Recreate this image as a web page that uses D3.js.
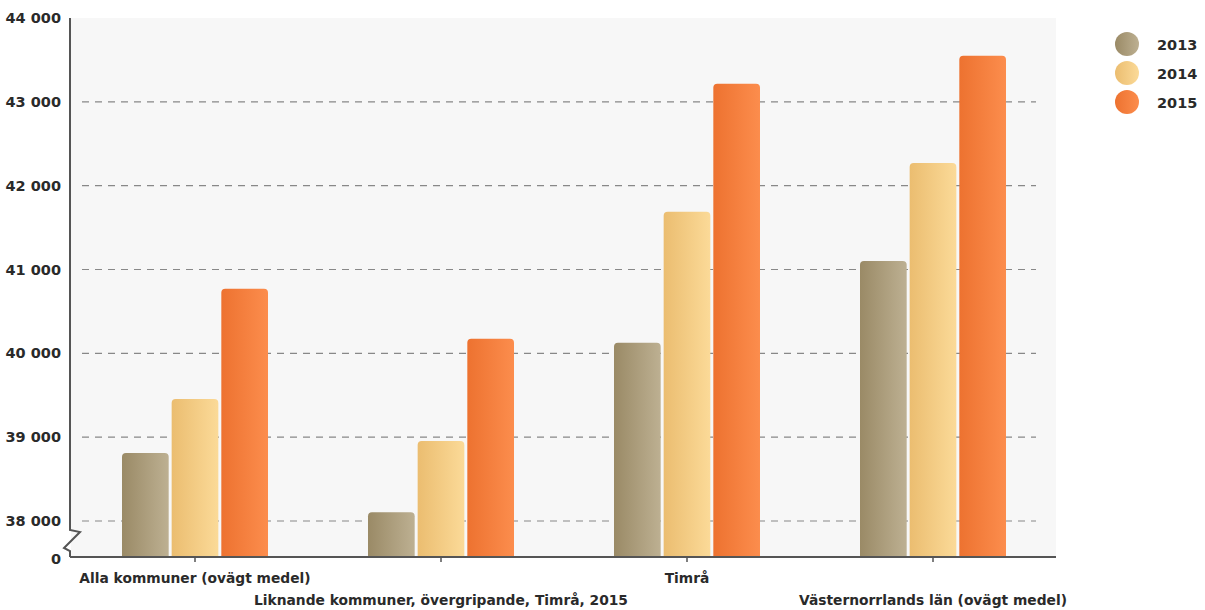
<!DOCTYPE html>
<html>
<head>
<meta charset="utf-8">
<script src="https://cdn.jsdelivr.net/npm/d3@7"></script>
<style>
  body { margin: 0; background: #fff; }
  text { font-family: "DejaVu Sans", sans-serif; font-weight: bold; fill: #2a2a2a; }
</style>
</head>
<body>
<div id="chart"></div>
<script>
// data
var categories = ["Alla kommuner (ovägt medel)", "Liknande kommuner, övergripande, Timrå, 2015", "Timrå", "Västernorrlands län (ovägt medel)"];
var years = ["2013", "2014", "2015"];
var v2013 = [38810, 38105, 40125, 41100];
var v2014 = [39455, 38955, 41690, 42270];
var v2015 = [40770, 40175, 43215, 43550];
var yTicks = [38000, 39000, 40000, 41000, 42000, 43000, 44000];

var colorsFrom = ["#9a8a66", "#ebbd70", "#ed7230"];
var colorsTo = ["#bdb092", "#fbda98", "#fc8d4d"];

var W = 1205, H = 610;
var mLeft = 70, mRight = 1056, mTop = 18, mBottom = 557;

let svg = d3.select("#chart").append("svg").attr("width", W).attr("height", H);
let defs = svg.append("defs");
years.forEach(function (y, i) {
    let g = defs.append("linearGradient").attr("id", "grad" + i)
        .attr("x1", "0%").attr("x2", "100%").attr("y1", "0%").attr("y2", "0%");
    g.append("stop").attr("offset", "0%").attr("stop-color", colorsFrom[i]);
    g.append("stop").attr("offset", "100%").attr("stop-color", colorsTo[i]);
});

// broken axis: 0 at bottom, then 38000..44000
var y = d3.scaleLinear().domain([0, 38000, 44000]).range([mBottom, 521, mTop]);
var x0 = d3.scaleBand().domain(categories).range([mLeft + 2, mRight]).padding(0);
var x1 = d3.scaleBand().domain(years).range([0, 146]).paddingInner(0.06);

// plot background
svg.append("rect").attr("x", mLeft + 1).attr("y", mTop).attr("width", mRight - mLeft - 1).attr("height", mBottom - mTop)
    .attr("fill", "#f7f7f7");

// grid lines
svg.selectAll(".grid").data(yTicks.slice(0, -1)).enter().append("line")
    .attr("x1", mLeft + 12).attr("x2", mRight - 20)
    .attr("y1", d => y(d)).attr("y2", d => y(d))
    .attr("stroke", "#888").attr("stroke-width", 1.2).attr("stroke-dasharray", "7,6");

// bars
var series = [v2013, v2014, v2015];
categories.forEach(function (c, ci) {
    let gx = x0(c) + (x0.bandwidth() - 146) / 2;
    years.forEach(function (yr, si) {
        let v = series[si][ci];
        let bx = gx + x1(yr), bw = x1.bandwidth(), by = y(v), r = 4;
        svg.append("path")
            .attr("d", "M" + bx + "," + mBottom + "V" + (by + r) + "Q" + bx + "," + by + " " + (bx + r) + "," + by
                + "H" + (bx + bw - r) + "Q" + (bx + bw) + "," + by + " " + (bx + bw) + "," + (by + r) + "V" + mBottom + "Z")
            .attr("fill", "url(#grad" + si + ")");
    });
});

// y axis with break
svg.append("path")
    .attr("d", "M" + mLeft + "," + mTop + "V530L" + (mLeft + 10) + ",532L" + (mLeft - 6) + ",548L" + mLeft + ",551V" + mBottom)
    .attr("fill", "none").attr("stroke", "#555").attr("stroke-width", 2);
// x axis
svg.append("line").attr("x1", mLeft).attr("x2", mRight).attr("y1", mBottom).attr("y2", mBottom)
    .attr("stroke", "#555").attr("stroke-width", 2);

// y labels
svg.selectAll(".ylab").data(yTicks).enter().append("text")
    .attr("x", mLeft - 9).attr("y", d => y(d)).attr("dy", "0.35em")
    .attr("text-anchor", "end").style("font-size", "14.5px")
    .text(d => d3.format(",")(d).replace(",", " "));
svg.append("text").attr("x", mLeft - 9).attr("y", mBottom + 2).attr("dy", "0.35em")
    .attr("text-anchor", "end").style("font-size", "14.5px").text("0");

// x ticks and labels
categories.forEach(function (c, ci) {
    let cx = x0(c) + x0.bandwidth() / 2;
    svg.append("line").attr("x1", cx).attr("x2", cx).attr("y1", mBottom).attr("y2", mBottom + 5)
        .attr("stroke", "#555").attr("stroke-width", 1.5);
    svg.append("text").attr("x", cx).attr("y", ci % 2 == 0 ? 583 : 605)
        .attr("text-anchor", "middle").style("font-size", "13.8px").text(c);
});

// legend
years.forEach(function (yr, i) {
    let ly = 44 + i * 29;
    svg.append("circle").attr("cx", 1127).attr("cy", ly).attr("r", 12).attr("fill", "url(#grad" + i + ")");
    svg.append("text").attr("x", 1157).attr("y", ly + 1).attr("dy", "0.35em").style("font-size", "14.5px").text(yr);
});
</script>
</body>
</html>
